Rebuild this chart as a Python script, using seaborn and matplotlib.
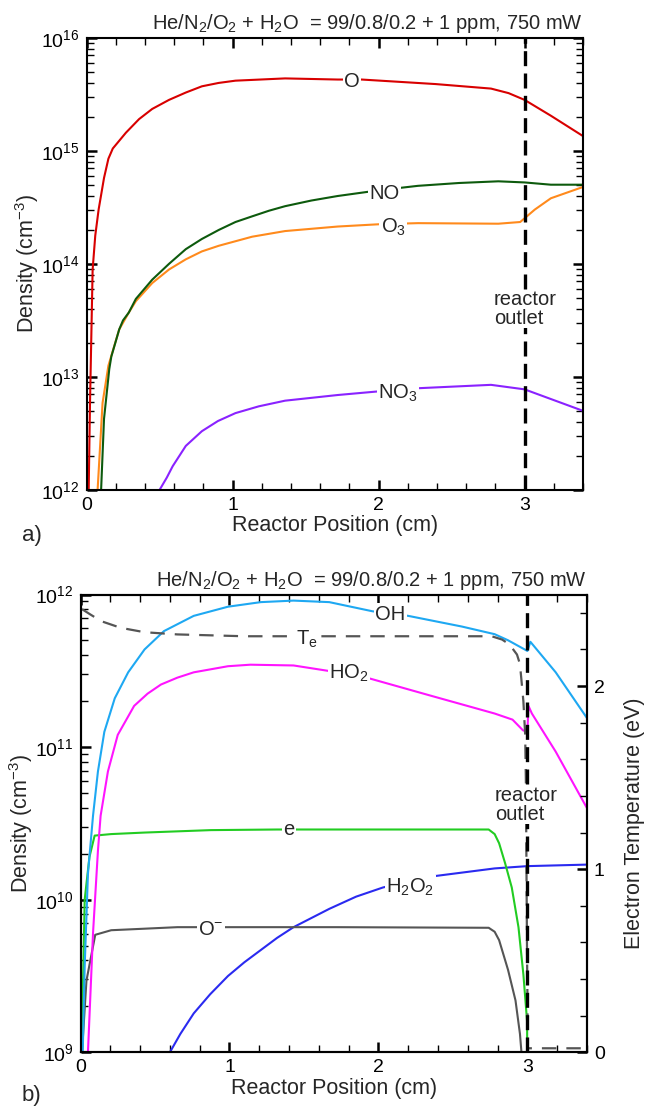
import numpy as np
import matplotlib
matplotlib.use("Agg")
import matplotlib.pyplot as plt
from matplotlib.ticker import LogLocator, MultipleLocator, NullFormatter
import seaborn as sns

sns.set_theme(style="ticks")
plt.rcParams['font.family'] = ['Liberation Sans', 'DejaVu Sans']
plt.rcParams.update({
    'mathtext.fontset': 'custom',
    'mathtext.rm': 'Liberation Sans',
    'mathtext.it': 'Liberation Sans:italic',
    'mathtext.bf': 'Liberation Sans:bold',
    'axes.linewidth': 1.5,
    'axes.edgecolor': 'black',
})

# ---- panel a) : x in cm, density as log10(cm^-3)
o_x = [0.015, 0.024, 0.042, 0.06, 0.083, 0.12, 0.15, 0.18, 0.27, 0.36, 0.45, 0.565, 0.68, 0.79,
       0.905, 1.02, 1.36, 1.72, 1.885, 2.39, 2.77, 2.89, 3.0, 3.18, 3.4]
o_log = [12.0, 12.77, 13.95, 14.25, 14.48, 14.76, 14.93, 15.02, 15.16, 15.28, 15.37, 15.45, 15.515,
         15.57, 15.60, 15.62, 15.64, 15.63, 15.63, 15.59, 15.55, 15.51, 15.45, 15.31, 15.13]

no_x = [0.10, 0.12, 0.156, 0.17, 0.224, 0.25, 0.29, 0.338, 0.45, 0.565, 0.68, 0.79, 0.906, 1.02,
        1.134, 1.25, 1.36, 1.54, 1.72, 2.0, 2.27, 2.55, 2.82, 3.0, 3.18, 3.4]
no_log = [12.0, 12.63, 13.07, 13.18, 13.42, 13.5, 13.57, 13.69, 13.86, 14.0, 14.13, 14.22, 14.30, 14.37,
          14.42, 14.47, 14.51, 14.56, 14.60, 14.65, 14.69, 14.715, 14.73, 14.72, 14.70, 14.70]

o3_x = [0.076, 0.11, 0.15, 0.224, 0.29, 0.338, 0.45, 0.565, 0.68, 0.79, 0.906, 1.134, 1.36, 1.72,
        2.0, 2.27, 2.82, 2.97, 3.07, 3.18, 3.4]
o3_log = [12.0, 12.77, 13.1, 13.42, 13.57, 13.67, 13.83, 13.95, 14.04, 14.11, 14.16, 14.24, 14.29, 14.33,
          14.35, 14.36, 14.355, 14.37, 14.48, 14.58, 14.68]

no3_x = [0.50, 0.55, 0.59, 0.68, 0.79, 0.9, 1.02, 1.18, 1.36, 1.72, 1.98, 2.27, 2.77, 3.0, 3.4]
no3_log = [12.0, 12.11, 12.21, 12.39, 12.52, 12.61, 12.68, 12.74, 12.79, 12.84, 12.87, 12.90, 12.93,
           12.89, 12.70]

# ---- panel b)
oh_x = [0.015, 0.028, 0.05, 0.084, 0.117, 0.16, 0.23, 0.32, 0.43, 0.56, 0.76, 0.99, 1.21, 1.43,
        1.67, 1.96, 2.20, 2.56, 2.78, 2.87, 3.0, 3.02, 3.19, 3.4]
oh_log = [9.0, 9.56, 10.17, 10.55, 10.84, 11.10, 11.32, 11.49, 11.64, 11.76, 11.86, 11.92, 11.95, 11.96,
          11.95, 11.89, 11.86, 11.79, 11.74, 11.70, 11.63, 11.69, 11.49, 11.19]

ho2_x = [0.05, 0.084, 0.117, 0.135, 0.184, 0.25, 0.36, 0.45, 0.54, 0.65, 0.76, 0.99, 1.14, 1.43,
         1.66, 1.94, 2.34, 2.78, 2.90, 2.97, 3.0, 3.007, 3.03, 3.19, 3.4]
ho2_log = [9.0, 9.78, 10.32, 10.55, 10.84, 11.08, 11.27, 11.35, 11.41, 11.455, 11.49, 11.53, 11.54, 11.535,
           11.50, 11.45, 11.34, 11.22, 11.18, 11.11, 11.10, 11.27, 11.22, 10.97, 10.60]

e_x = [0.005, 0.01, 0.028, 0.06, 0.095, 0.206, 0.43, 0.875, 1.32, 1.72, 2.74, 2.78, 2.81, 2.85,
       2.895, 2.94, 2.973, 2.998, 3.0]
e_log = [8.8, 9.12, 10.0, 10.28, 10.42, 10.43, 10.44, 10.456, 10.46, 10.46, 10.46, 10.43, 10.37, 10.24,
         10.08, 9.82, 9.51, 9.2, 8.5]

om_x = [0.01, 0.04, 0.099, 0.206, 0.43, 0.65, 1.32, 1.72, 2.74, 2.78, 2.81, 2.87, 2.92, 2.95, 2.96,
        2.965]
om_log = [9.0, 9.47, 9.77, 9.80, 9.81, 9.82, 9.82, 9.82, 9.816, 9.79, 9.735, 9.54, 9.34, 9.12, 9.0, 8.8]

h2o2_x = [0.60, 0.67, 0.76, 0.87, 0.99, 1.10, 1.21, 1.32, 1.43, 1.55, 1.67, 1.85, 2.03, 2.2, 2.38,
          2.58, 2.78, 3.0, 3.4]
h2o2_log = [9.0, 9.12, 9.255, 9.38, 9.50, 9.59, 9.67, 9.75, 9.82, 9.88, 9.94, 10.02, 10.08, 10.12,
            10.155, 10.18, 10.205, 10.22, 10.23]

te_x = [0.01, 0.068, 0.14, 0.27, 0.43, 0.65, 1.10, 2.76, 2.83, 2.88, 2.93, 2.95, 2.973, 2.985,
        2.99, 2.997, 3.003, 3.4]
te_ev = [2.42, 2.39, 2.354, 2.318, 2.294, 2.282, 2.272, 2.272, 2.254, 2.227, 2.172, 2.12, 1.917, 1.735,
         1.46, 0.6, 0.022, 0.022]

title = "He/N$_2$/O$_2$ + H$_2$O  = 99/0.8/0.2 + 1 ppm, 750 mW"


def curve(ax, x, logy, color):
    sns.lineplot(x=x, y=np.power(10.0, logy), ax=ax, color=color, lw=1.5,
                 sort=False, estimator=None, legend=False)


def tag(ax, x, logy, s):
    ax.text(x, 10 ** logy, s, ha='center', va='center_baseline', fontsize=14.5, zorder=6,
            bbox=dict(fc='white', ec='none', pad=0.8))


def style(ax, ypad):
    ax.set_xlim(0, 3.4)
    ax.xaxis.set_major_locator(MultipleLocator(1))
    ax.xaxis.set_minor_locator(MultipleLocator(0.2))
    ax.yaxis.set_major_locator(LogLocator(base=10, numticks=10))
    ax.yaxis.set_minor_locator(LogLocator(base=10, subs=np.arange(2, 10), numticks=12))
    ax.yaxis.set_minor_formatter(NullFormatter())
    ax.tick_params(which='both', direction='in', top=True, labelsize=14, pad=5, colors='black')
    ax.tick_params(which='major', length=7, width=1.8)
    ax.tick_params(which='minor', length=5, width=1.0)
    ax.set_xlabel('Reactor Position (cm)', fontsize=15.5, labelpad=1)
    ax.set_ylabel('Density (cm$^{-3}$)', fontsize=15.5, labelpad=ypad)
    ax.set_title(title, loc='right', fontsize=14.5, pad=6)
    for s in ax.spines.values():
        s.set_linewidth(1.5)


fig = plt.figure(figsize=(6.54, 11.08), dpi=100)
ax_a = fig.add_axes([86.5 / 654, 1 - 490 / 1108, (583 - 86.5) / 654, (490 - 37.7) / 1108])
ax_b = fig.add_axes([80.5 / 654, 1 - 1052.3 / 1108, (587 - 80.5) / 654, (1052.3 - 594.5) / 1108])

# ---- a)
ax_a.set_yscale('log')
curve(ax_a, o_x, o_log, '#d80000')
curve(ax_a, o3_x, o3_log, '#ff8a1c')
curve(ax_a, no_x, no_log, '#0d5a0d')
curve(ax_a, no3_x, no3_log, '#8a22ff')
ax_a.axvline(3.0, color='black', lw=2.4, ls=(0, (4.5, 2.2)), zorder=4)
ax_a.set_ylim(1e12, 1e16)
style(ax_a, 0)
ax_a.tick_params(which='both', right=True)
tag(ax_a, 1.82, 15.63, 'O')
tag(ax_a, 2.04, 14.64, 'NO')
tag(ax_a, 2.10, 14.35, 'O$_3$')
tag(ax_a, 2.13, 12.88, 'NO$_3$')
ax_a.text(2.79, 10 ** 13.6, 'reactor\noutlet', ha='left', va='center', fontsize=14.5,
          linespacing=0.95, zorder=6, bbox=dict(fc='white', ec='none', pad=0.5))

# ---- b)
ax_b.set_yscale('log')
curve(ax_b, h2o2_x, h2o2_log, '#2a2af0')
curve(ax_b, om_x, om_log, '#555555')
curve(ax_b, e_x, e_log, '#22cc22')
curve(ax_b, ho2_x, ho2_log, '#ff14ff')
curve(ax_b, oh_x, oh_log, '#1ea8f2')
ax_b.set_ylim(1e9, 1e12)
style(ax_b, 0)
ax_b.tick_params(which='both', right=False)
tag(ax_b, 2.08, 11.885, 'OH')
tag(ax_b, 1.80, 11.50, 'HO$_2$')
tag(ax_b, 1.40, 10.475, 'e')
tag(ax_b, 0.875, 9.82, 'O$^{-}$')
tag(ax_b, 2.215, 10.10, 'H$_2$O$_2$')

ax_t = ax_b.twinx()
sns.lineplot(x=te_x, y=te_ev, ax=ax_t, color='#555555', lw=1.6, ls=(0, (6.5, 4.5)),
             sort=False, estimator=None, legend=False)
ax_t.axvline(3.0, color='black', lw=2.4, ls=(0, (4.5, 2.2)), zorder=4)
ax_t.set_ylim(0, 2.5)
ax_t.set_xlim(0, 3.4)
ax_t.yaxis.set_major_locator(MultipleLocator(1))
ax_t.yaxis.set_minor_locator(MultipleLocator(0.2))
ax_t.tick_params(which='both', direction='in', labelsize=14, pad=5, colors='black')
ax_t.tick_params(which='major', length=7, width=1.8)
ax_t.tick_params(which='minor', length=5, width=1.0)
ax_t.set_ylabel('Electron Temperature (eV)', fontsize=15.5, labelpad=14)
ax_t.text(1.52, 2.27, 'T$_\\mathrm{e}$', ha='center', va='center_baseline', fontsize=14.5, zorder=6,
          bbox=dict(fc='white', ec='none', pad=0.8))
ax_t.text(2.78, 1.35, 'reactor\noutlet', ha='left', va='center', fontsize=14.5,
          linespacing=0.95, zorder=6, bbox=dict(fc='white', ec='none', pad=0.5))

fig.text(22 / 654, 1 - 535 / 1108, 'a)', fontsize=16, va='center', ha='left')
fig.text(22 / 654, 1 - 1095 / 1108, 'b)', fontsize=16, va='center', ha='left')

fig.savefig('out.png', dpi=100)
